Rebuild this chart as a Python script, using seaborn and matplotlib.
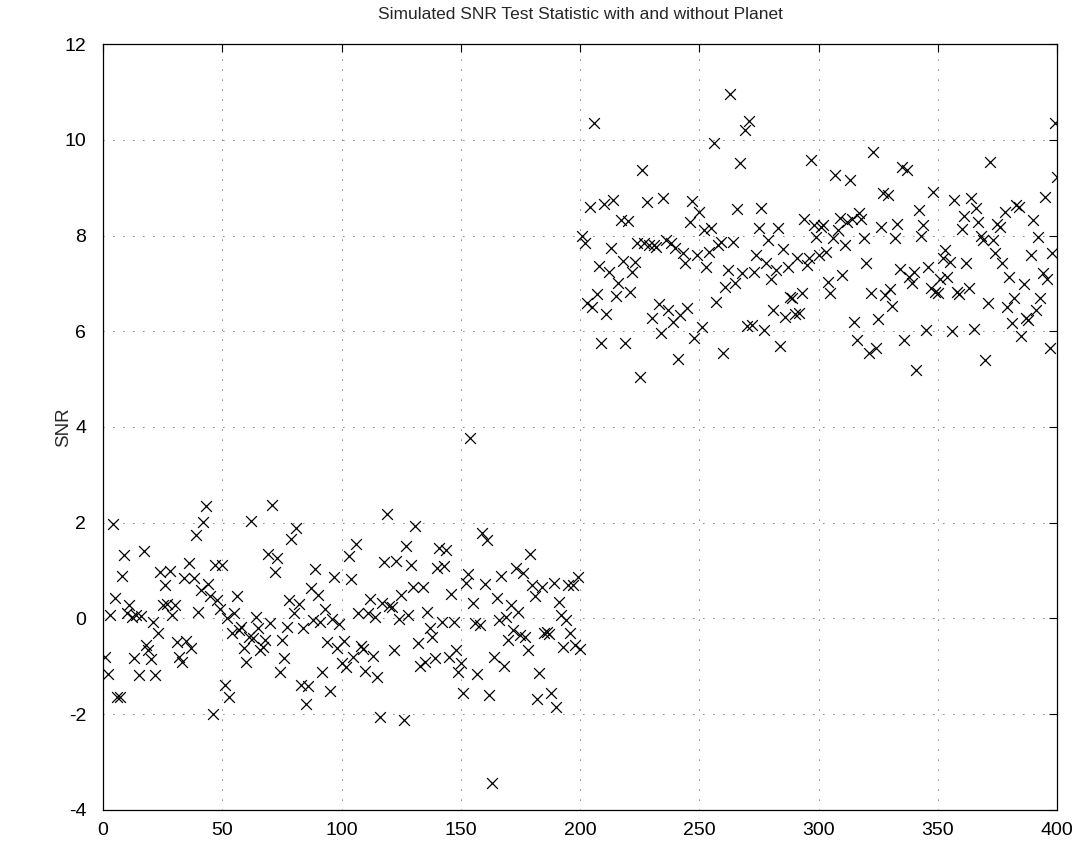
import numpy as np
import pandas as pd
import matplotlib
matplotlib.use("Agg")
import matplotlib.pyplot as plt
import seaborn as sns

# Valores: sin planeta (1-200) y con planeta (201-400)
snr_sin_planeta = [
    -0.8, -1.15, 0.07, 1.97, 0.43, -1.63, -1.64, 0.89, 1.33, 0.11,
    0.28, 0.03, -0.83, 0.07, -1.18, 0.05, 1.40, -0.55, -0.66, -0.85,
    -0.07, -1.18, -0.3, 0.98, 0.28, 0.70, 0.3, 1.0, 0.07, 0.28,
    -0.5, -0.8, -0.9, 0.85, -0.48, 1.16,
    -0.62, 0.85, 1.74, 0.14, 0.6, 2.02, 2.35, 0.73, 0.46, -2.0,
    1.12, 0.39, 0.2, 1.12, -1.39, 0.0, -1.63, -0.31, 0.11, 0.47,
    -0.24, -0.18, -0.61, -0.9, -0.38, 2.04, -0.41, 0.04, -0.2, -0.66,
    -0.59, -0.45, 1.35, -0.09,
    2.37, 0.97, 1.26, -1.11, -0.44, -0.83, -0.17, 0.39, 1.65, 0.11,
    1.88, 0.3, -1.39, -0.2, -1.79, -1.41, 0.63, -0.03, 1.03, 0.49,
    -0.07, -1.11, 0.19, -0.5, -1.51, -0.02, 0.86, -0.62, -0.11, -0.94,
    -0.46, -1.01,
    1.31, 0.82, -0.8, 1.56, 0.12, -0.57, -0.64, -1.09, 0.11, 0.4,
    -0.78, 0.04, -1.23, -2.06, 0.33, 1.17, 2.18, 0.26, 0.25, -0.66,
    1.21, -0.02, 0.49, -2.13, 1.51, 0.07, 1.12, 0.65, 1.93, -0.52,
    -1.0, 0.66, -0.9, 0.14, -0.2, -0.38,
    -0.83, 1.05, 1.47, -0.07, 1.1, 1.43, -0.81, 0.51, -0.07, -0.66,
    -1.11, -0.94, -1.55, 0.75, 0.93, 3.76, 0.32, -0.1, -1.16, -0.14,
    1.78, 0.73, 1.64, -1.6, -3.43, -0.81, 0.42, -0.03, 0.89, -1.0,
    0.04, -0.45, 0.28, -0.24, 1.05,
    0.14, -0.34, 0.96, -0.38, -0.66, 1.35, 0.7, 0.46, -1.69, -1.14,
    0.66, -0.3, -0.28, -0.32, -1.56, 0.75, -1.84, 0.35, 0.07, -0.59,
    -0.03, 0.7, -0.31, 0.7, -0.55, 0.87, -0.64,
]

snr_con_planeta = [
    7.99, 7.84, 6.6, 8.59, 6.5, 10.35, 6.78, 7.36, 5.75, 8.66,
    6.37, 7.24, 7.73, 8.74, 6.74, 7.01, 8.32, 7.47, 5.75, 8.31,
    6.83, 7.24, 7.45, 7.84, 5.04, 9.37, 7.85, 8.69, 7.8, 6.27,
    7.8, 7.75, 6.57, 5.96, 8.78, 7.9,
    6.44, 7.84, 6.2, 7.73, 5.41, 6.34, 7.63, 7.42, 6.48, 8.29,
    8.73, 5.85, 7.59, 8.5, 6.08, 8.11, 7.35, 7.66, 8.15, 9.94,
    6.62, 7.8, 7.87, 5.54, 6.93, 7.28, 10.95, 7.87, 7.0, 8.55,
    9.51, 7.21, 10.2, 6.1, 10.4,
    6.13, 7.24, 7.59, 8.15, 8.57, 6.03, 7.42, 7.91, 7.1, 6.44,
    7.29, 8.16, 5.69, 7.71, 6.3, 7.35, 6.72, 6.69, 6.37, 7.54,
    6.39, 6.79, 8.34, 7.38, 7.54, 9.58, 8.22, 7.97, 7.59, 8.18,
    8.22, 7.66,
    7.03, 6.8, 7.94, 9.26, 8.11, 8.36, 7.17, 7.8, 8.29, 9.16,
    8.34, 6.2, 5.82, 8.46, 8.34, 7.94, 7.43, 5.55, 6.8, 9.75,
    5.66, 6.25, 8.18, 8.89, 6.76, 8.85, 6.88, 6.53, 7.94, 8.25,
    7.31, 9.44, 5.82, 9.37,
    7.14, 7.0, 7.24, 5.2, 8.53, 7.99, 8.22, 6.03, 7.35, 6.9,
    8.91, 6.83, 6.79, 7.09, 7.54, 7.7, 7.14, 7.45, 6.0, 8.74,
    6.83, 6.78, 8.13, 8.41, 7.42, 6.9, 8.78, 6.04, 8.57, 8.29,
    7.99, 7.91, 5.4, 6.58,
    9.54, 7.91, 7.63, 8.25, 8.18, 7.42, 8.5, 6.51, 7.14, 6.17,
    6.69, 8.64, 8.59, 5.9, 6.99, 6.27, 6.24, 7.59, 8.32, 6.44,
    7.97, 6.69, 7.22, 8.81, 7.1, 5.64, 7.63, 10.35, 9.23,
]

x_ticks = [0, 50, 100, 150, 200, 250, 300, 350, 400]
y_ticks = [-4, -2, 0, 2, 4, 6, 8, 10, 12]

snr = snr_sin_planeta + snr_con_planeta
df = pd.DataFrame({"muestra": np.arange(1, len(snr) + 1), "SNR": snr})

sns.set_style("white")
plt.rcParams['font.family'] = ['Liberation Sans', 'DejaVu Sans']
plt.rcParams['axes.unicode_minus'] = False

fig = plt.figure(figsize=(10.81, 8.5), dpi=100)
ax = fig.add_axes([0.0953, 0.0471, 0.8825, 0.9011])

sns.scatterplot(data=df, x="muestra", y="SNR", marker="x", color="black",
                s=60, linewidth=0.9, ax=ax, legend=False)

ax.set_xlim(0, 400)
ax.set_ylim(-4, 12)
ax.set_xticks(x_ticks)
ax.set_yticks(y_ticks)
ax.grid(True, color="black", linestyle=(0, (1, 11)), linewidth=0.6)
ax.tick_params(direction="in", top=True, right=True, length=6,
               width=0.8, labelsize=14, colors="black")
ax.tick_params(axis="y", pad=12)
ax.tick_params(axis="x", pad=9)
for spine in ax.spines.values():
    spine.set_color("black")
    spine.set_linewidth(0.9)

ax.set_xlabel("")
ax.set_ylabel("SNR", fontsize=13.5)
ax.yaxis.set_label_coords(-0.032, 0.5)
ax.set_title("Simulated SNR Test Statistic with and without Planet",
             fontsize=12.5, pad=18)

plt.savefig("out.png", dpi=100)
plt.close()
